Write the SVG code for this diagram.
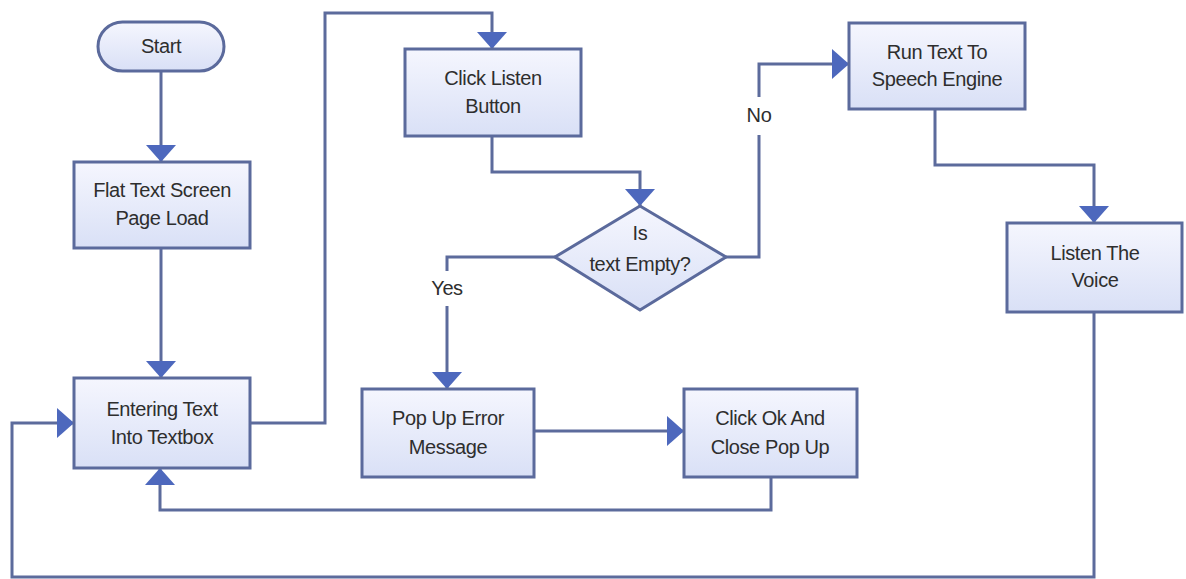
<svg xmlns="http://www.w3.org/2000/svg" width="1186" height="579" viewBox="0 0 1186 579">
<defs>
<linearGradient id="g" x1="0" y1="0" x2="0" y2="1">
<stop offset="0" stop-color="#f5f6fe"/>
<stop offset="1" stop-color="#d9e0f6"/>
</linearGradient>
<marker id="ah" markerWidth="17" markerHeight="30" refX="17" refY="15" orient="auto" markerUnits="userSpaceOnUse" viewBox="0 0 17 30">
<path d="M0,0 L17,15 L0,30 Z" fill="#4d68bd"/>
</marker>
<style>
.n{fill:url(#g);stroke:#5b6a9c;stroke-width:3}
.c{fill:none;stroke:#5c6b9c;stroke-width:3}
.t{font-family:"Liberation Sans",Arial,sans-serif;font-size:20px;letter-spacing:-0.4px;fill:#2e2e2e;text-anchor:middle}
</style>
</defs>
<rect width="1186" height="579" fill="#ffffff"/>
<g id="connectors">
<path class="c" d="M161,71 V162" marker-end="url(#ah)"/>
<path class="c" d="M161,248 V378" marker-end="url(#ah)"/>
<path class="c" d="M250,423 H325 V13 H492 V49" marker-end="url(#ah)"/>
<path class="c" d="M492,136 V172 H640 V206" marker-end="url(#ah)"/>
<path class="c" d="M555,257 H447 V271"/>
<path class="c" d="M447,306 V389" marker-end="url(#ah)"/>
<path class="c" d="M726,257 H759 V135"/>
<path class="c" d="M759,97 V64 H849" marker-end="url(#ah)"/>
<path class="c" d="M935,109 V165 H1094 V223" marker-end="url(#ah)"/>
<path class="c" d="M534,431 H684" marker-end="url(#ah)"/>
<path class="c" d="M771,477 V510 H160 V468" marker-end="url(#ah)"/>
<path class="c" d="M1094,312 V577 H12 V423 H74" marker-end="url(#ah)"/>
<text class="t" x="447" y="295">Yes</text>
<text class="t" x="759" y="122">No</text>
</g>
<g id="start">
<rect class="n" x="98" y="22" width="126" height="49" rx="24.5"/>
<text class="t" x="161" y="53">Start</text>
</g>
<g id="flat">
<rect class="n" x="74" y="162" width="176" height="86"/>
<text class="t" x="162" y="197">Flat Text Screen</text>
<text class="t" x="162" y="225">Page Load</text>
</g>
<g id="entering">
<rect class="n" x="74" y="378" width="176" height="90"/>
<text class="t" x="162" y="416">Entering Text</text>
<text class="t" x="162" y="444">Into Textbox</text>
</g>
<g id="clicklisten">
<rect class="n" x="405" y="49" width="176" height="87"/>
<text class="t" x="493" y="85">Click Listen</text>
<text class="t" x="493" y="113">Button</text>
</g>
<g id="decision">
<polygon class="n" points="640,206 726,257 640,310 555,257"/>
<text class="t" x="640" y="240">Is</text>
<text class="t" x="640" y="271">text Empty?</text>
</g>
<g id="runtts">
<rect class="n" x="849" y="23" width="176" height="86"/>
<text class="t" x="937" y="59">Run Text To</text>
<text class="t" x="937" y="86">Speech Engine</text>
</g>
<g id="listen">
<rect class="n" x="1007" y="223" width="175" height="89"/>
<text class="t" x="1095" y="260">Listen The</text>
<text class="t" x="1095" y="287">Voice</text>
</g>
<g id="popup">
<rect class="n" x="362" y="389" width="172" height="88"/>
<text class="t" x="448" y="425">Pop Up Error</text>
<text class="t" x="448" y="454">Message</text>
</g>
<g id="clickok">
<rect class="n" x="684" y="389" width="173" height="88"/>
<text class="t" x="770" y="425">Click Ok And</text>
<text class="t" x="770" y="454">Close Pop Up</text>
</g>
</svg>
